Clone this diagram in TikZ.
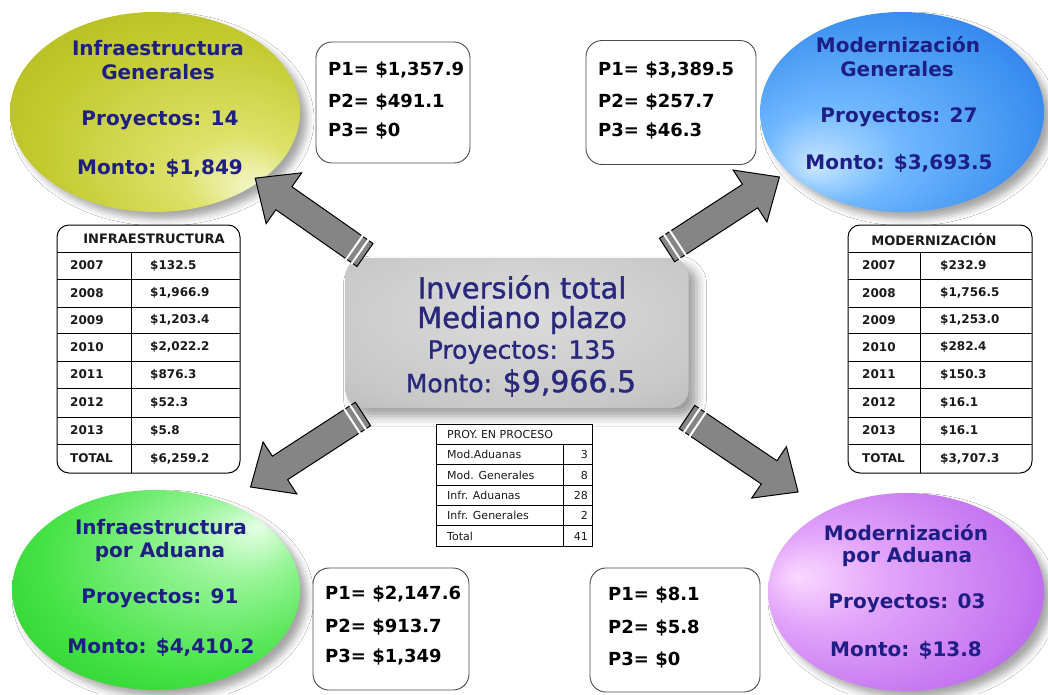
\documentclass[tikz,border=0pt]{standalone}
\usepackage{fontspec}
\setmainfont{DejaVu Sans}
\newfontfamily\semib{DejaVu Sans}[FakeBold=1.2]
\usetikzlibrary{shapes.geometric,shadows.blur}

\newcommand\fsz[1]{\fontsize{#1}{#1}\selectfont}

\definecolor{navy}{HTML}{1E1E85}
\definecolor{ctrnavy}{HTML}{28287C}
\definecolor{arrowgray}{HTML}{858585}
\definecolor{boxline}{HTML}{4A4A4A}
\definecolor{tabtext}{HTML}{1A1A1A}

\definecolor{tlA}{HTML}{F6F8D0}
\definecolor{tlB}{HTML}{DDE26A}
\definecolor{tlC}{HTML}{C2CA2E}
\definecolor{tlD}{HTML}{AAB31A}
\definecolor{tlE}{HTML}{949C0E}

\definecolor{trA}{HTML}{C8E6FF}
\definecolor{trB}{HTML}{70B8FF}
\definecolor{trC}{HTML}{3C90F0}
\definecolor{trD}{HTML}{2060E0}
\definecolor{trE}{HTML}{0C28C4}

\definecolor{blA}{HTML}{E6FFE6}
\definecolor{blB}{HTML}{98F598}
\definecolor{blC}{HTML}{44E244}
\definecolor{blD}{HTML}{22C422}
\definecolor{blE}{HTML}{12A012}

\definecolor{brA}{HTML}{FAD8FF}
\definecolor{brB}{HTML}{E2A4FA}
\definecolor{brC}{HTML}{C474F0}
\definecolor{brD}{HTML}{9444E0}
\definecolor{brE}{HTML}{5412B4}

\definecolor{gA}{HTML}{DCDCDC}
\definecolor{gB}{HTML}{C8C8C8}
\definecolor{gC}{HTML}{A8A8A8}
\definecolor{gD}{HTML}{909090}

\pgfdeclareradialshading{shTL}{\pgfpoint{18bp}{-20bp}}{color(0bp)=(tlA); color(10bp)=(tlB); color(28bp)=(tlC); color(44bp)=(tlD); color(50bp)=(tlE)}
\pgfdeclareradialshading{shTR}{\pgfpoint{-16bp}{-14bp}}{color(0bp)=(trA); color(12bp)=(trB); color(30bp)=(trC); color(44bp)=(trD); color(50bp)=(trE)}
\pgfdeclareradialshading{shBL}{\pgfpoint{18bp}{16bp}}{color(0bp)=(blA); color(10bp)=(blB); color(28bp)=(blC); color(44bp)=(blD); color(50bp)=(blE)}
\pgfdeclareradialshading{shBR}{\pgfpoint{-20bp}{4bp}}{color(0bp)=(brA); color(12bp)=(brB); color(30bp)=(brC); color(44bp)=(brD); color(50bp)=(brE)}
\pgfdeclareradialshading{shGray}{\pgfpoint{0bp}{8bp}}{color(0bp)=(gA); color(30bp)=(gB); color(55bp)=(gC); color(72bp)=(gD)}

\tikzset{
  ell/.style={ellipse, draw=none, inner sep=0,
    blur shadow={shadow xshift=7pt, shadow yshift=-7pt, shadow blur radius=7pt, shadow opacity=35}},
  etxt/.style={font=\fsz{20}\bfseries, text=navy, inner sep=0},
  ctxt/.style={text=ctrnavy, inner sep=0},
  pbox/.style={draw=boxline, line width=0.9pt, fill=white, rounded corners=16pt, inner sep=0},
  ptxt/.style={font=\fsz{18}\bfseries, text=black, anchor=west, inner sep=0},
  tbl/.style={draw=black, line width=1pt, fill=white, rounded corners=12pt, inner sep=0},
  thead/.style={font=\fsz{13}\bfseries, text=tabtext, inner sep=0},
  tcell/.style={font=\fsz{12}\bfseries, text=tabtext, anchor=west, inner sep=0},
  scell/.style={font=\fsz{11}, text=tabtext, inner sep=0},
  pics/bigarrow/.style={code={
    \fill[arrowgray, draw=black, line width=1pt, line join=miter]
      (0,-14) -- (99,-14) -- (99,-31) -- (134,0) -- (99,31) -- (99,14) -- (0,14) -- cycle;
    \draw[white, line width=2pt] (6,-15.5) -- (6,15.5) (13,-15.5) -- (13,15.5);
  }}
}

\begin{document}
\begin{tikzpicture}[x=1pt,y=-1pt]
\useasboundingbox (0,0) rectangle (1048,694);
\fill[white] (0,0) rectangle (1048,694);

% ellipses
\node[ell, shading=shTL, minimum width=290, minimum height=200] (eTL) at (155,112) {};
\node[ell, shading=shTR, minimum width=284, minimum height=200] (eTR) at (902,112) {};
\node[ell, shading=shBL, minimum width=288, minimum height=200] (eBL) at (156,590) {};
\node[ell, shading=shBR, minimum width=276, minimum height=198] (eBR) at (906,592) {};

% centre box
\node[draw=none, rounded corners=18pt, minimum width=343, minimum height=150, inner sep=0,
  shading=shGray,
  blur shadow={shadow xshift=8pt, shadow yshift=-8pt, shadow blur radius=10pt, shadow opacity=40}]
  (ctr) at (517,333) {};

% arrows from centre to ellipses
\coordinate (aTL) at (365,255);
\coordinate (aTR) at (667,250);
\coordinate (aBL) at (363,414);
\coordinate (aBR) at (687,417);
\pic[rotate=145] at (aTL) {bigarrow};
\pic[rotate=33] at (aTR) {bigarrow};
\pic[rotate=213] at (aBL) {bigarrow};
\pic[rotate=-34] at (aBR) {bigarrow};

% ellipse texts
\node[etxt] (tl1) at (158,48) {Infraestructura};
\node[etxt] (tl2) at (158,72) {Generales};
\node[etxt] (tl3) at (160,120) {Proyectos: 14};
\node[etxt] (tl4) at (160,168) {Monto: \$1,849};

\node[etxt] (tr1) at (898,45) {Modernización};
\node[etxt] (tr2) at (897,69) {Generales};
\node[etxt] (tr3) at (899,117) {Proyectos: 27};
\node[etxt] (tr4) at (899,163) {Monto: \$3,693.5};

\node[etxt] (bl1) at (161,527) {Infraestructura};
\node[etxt] (bl2) at (160,552) {por Aduana};
\node[etxt] (bl3) at (160,598) {Proyectos: 91};
\node[etxt] (bl4) at (161,647) {Monto: \$4,410.2};

\node[etxt] (br1) at (906,533) {Modernización};
\node[etxt] (br2) at (907,557) {por Aduana};
\node[etxt] (br3) at (907,603) {Proyectos: 03};
\node[etxt] (br4) at (906,650) {Monto: \$13.8};

% centre texts
\node[ctxt, font=\semib\fsz{29}] (c1) at (522,287) {Inversión total};
\node[ctxt, font=\semib\fsz{29}] (c2) at (522,320) {Mediano plazo};
\node[ctxt, font=\semib\fsz{25}] (c3) at (522,352) {Proyectos: 135};
\node[ctxt, font=\semib] (c4) at (521,383) {{\fsz{25}Monto: }{\fsz{30}\$9,966.5}};

% P boxes
\node[pbox, minimum width=154, minimum height=121] (pTL) at (393,102.5) {};
\node[ptxt] at (328,70) {P1= \$1,357.9};
\node[ptxt] at (328,102) {P2= \$491.1};
\node[ptxt] at (328,131) {P3= \$0};

\node[pbox, minimum width=170, minimum height=124] (pTR) at (671,102.5) {};
\node[ptxt] at (598,70) {P1= \$3,389.5};
\node[ptxt] at (598,102) {P2= \$257.7};
\node[ptxt] at (598,131) {P3= \$46.3};

\node[pbox, minimum width=156, minimum height=122] (pBL) at (391,629) {};
\node[ptxt] at (325,594) {P1= \$2,147.6};
\node[ptxt] at (325,627) {P2= \$913.7};
\node[ptxt] at (325,657) {P3= \$1,349};

\node[pbox, minimum width=170, minimum height=124] (pBR) at (675,630) {};
\node[ptxt] at (608,595) {P1= \$8.1};
\node[ptxt] at (608,628) {P2= \$5.8};
\node[ptxt] at (608,660) {P3= \$0};

% left table
\node[tbl, minimum width=183, minimum height=248] (tabL) at (148.5,349) {};
\foreach \yy in {252,279,307,333,361,388,417,444}
  \draw[black, line width=0.9pt] (57,\yy) -- (240,\yy);
\draw[black, line width=0.9pt] (131,252) -- (131,473);
\node[thead] at (154,239) {INFRAESTRUCTURA};
\foreach \yy/\a/\b in {265.5/2007/{\$132.5}, 293/2008/{\$1,966.9}, 320/2009/{\$1,203.4}, 347/2010/{\$2,022.2},
    374.5/2011/{\$876.3}, 402.5/2012/{\$52.3}, 430.5/2013/{\$5.8}, 458.5/TOTAL/{\$6,259.2}} {
  \node[tcell] at (70,\yy) {\a};
  \node[tcell] at (150,\yy) {\b};
}

% right table
\node[tbl, minimum width=184, minimum height=248] (tabR) at (940,349) {};
\foreach \yy in {252,279,307,333,361,388,417,444}
  \draw[black, line width=0.9pt] (848,\yy) -- (1032,\yy);
\draw[black, line width=0.9pt] (920,252) -- (920,473);
\node[thead] at (934,240) {MODERNIZACIÓN};
\foreach \yy/\a/\b in {265.5/2007/{\$232.9}, 293/2008/{\$1,756.5}, 320/2009/{\$1,253.0}, 347/2010/{\$282.4},
    374.5/2011/{\$150.3}, 402.5/2012/{\$16.1}, 430.5/2013/{\$16.1}, 458.5/TOTAL/{\$3,707.3}} {
  \node[tcell] at (862,\yy) {\a};
  \node[tcell] at (940,\yy) {\b};
}

% small table
\node[draw=black, line width=0.8pt, fill=white, minimum width=156, minimum height=122, inner sep=0] (tabS) at (514,485) {};
\foreach \yy in {444.3,464.7,485,505.3,525.7}
  \draw[black, line width=0.7pt] (436,\yy) -- (592,\yy);
\draw[black, line width=0.7pt] (563,444.3) -- (563,546);
\node[scell, anchor=west] at (447,434) {PROY. EN PROCESO};
\foreach \yy/\a/\b in {454.5/Mod.Aduanas/3, 475/Mod. Generales/8, 495/Infr. Aduanas/28, 515.5/Infr. Generales/2, 536/Total/41} {
  \node[scell, anchor=west] at (447,\yy) {\a};
  \node[scell, anchor=east] at (588,\yy) {\b};
}
\end{tikzpicture}
\end{document}
